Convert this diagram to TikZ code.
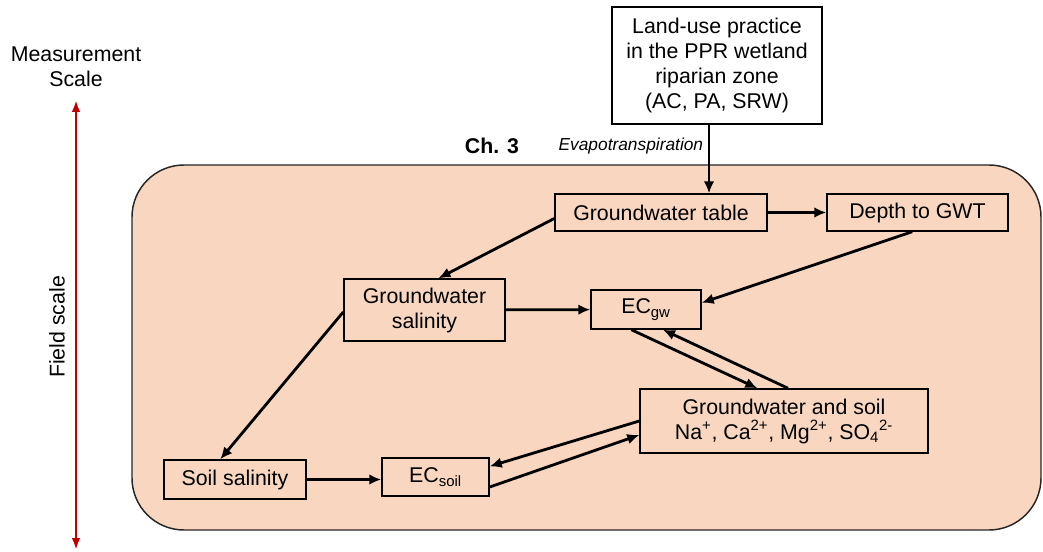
\documentclass[tikz,border=0pt]{standalone}
\usepackage{fontspec}
\setmainfont{Liberation Sans}
\usetikzlibrary{arrows.meta}
\definecolor{peach}{RGB}{248,214,192}
\definecolor{scalered}{RGB}{192,0,0}

\begin{document}
\begin{tikzpicture}[x=0.75pt,y=-0.75pt,
  every node/.style={font=\fontsize{16}{18.75}\selectfont},
  box/.style={draw,line width=1.1pt,fill=peach,align=center,inner sep=0pt},
  flow/.style={line width=2.1pt,-{Latex[length=9pt,width=8pt]}}]
  \useasboundingbox (0,0) rectangle (1043,552);

  \node[align=center] (scale) at (76,67) {Measurement\\Scale};
  \coordinate (scaletop) at (76,100);
  \coordinate (scalebot) at (76,550);
  \draw[scalered,line width=1.9pt,{Latex[length=9pt,width=6.5pt]}-{Latex[length=9pt,width=6.5pt]}] (scaletop) -- (scalebot);
  \node[rotate=90] (field) at (57,327) {Field scale};

  \draw[fill=peach,draw=black!85,line width=1.1pt,rounded corners=39pt] (132,165) rectangle (1041,530);
  \node[font=\fontsize{16}{18.75}\selectfont\bfseries] (ch) at (492,146) {Ch. 3};

  \node[box,fill=white,line width=2.2pt,minimum width=157.5pt,minimum height=87.75pt] (landuse) at (717,65.5)
    {Land-use practice\\in the PPR wetland\\riparian zone\\(AC, PA, SRW)};
  \node[box,minimum width=159pt,minimum height=27.75pt] (gwt) at (661,212.5) {Groundwater table};
  \node[box,minimum width=135.75pt,minimum height=27.75pt] (depth) at (917.5,212.5) {Depth to GWT};
  \node[box,minimum width=120.75pt,minimum height=46.5pt] (gws) at (424.5,310) {Groundwater\\salinity};
  \node[box,minimum width=82.5pt,minimum height=29.25pt] (ecgw) at (646,309.5) {EC\textsubscript{gw}};
  \node[box,minimum width=216pt,minimum height=48pt] (gwsoil) at (784,421)
    {Groundwater and soil\\Na\textsuperscript{+}, Ca\textsuperscript{2+}, Mg\textsuperscript{2+}, SO\textsubscript{4}\textsuperscript{2-}};
  \node[box,minimum width=106.5pt,minimum height=29.25pt] (soilsal) at (235,479.5) {Soil salinity};
  \node[box,minimum width=80.25pt,minimum height=28.5pt] (ecsoil) at (435.5,477) {EC\textsubscript{soil}};

  \draw[flow] ([xshift=-6pt]landuse.south) -- ([xshift=36pt]gwt.north)
    node[pos=0.3,left,font=\fontsize{13}{15}\selectfont\itshape] (evap) {Evapotranspiration};
  \draw[flow] (gwt) -- (depth);
  \draw[flow] ([yshift=-4.5pt]gwt.west) -- ([xshift=10.5pt]gws.north);
  \draw[flow] ([xshift=-4pt]depth.south) -- ([yshift=5pt]ecgw.east);
  \draw[flow] (gws) -- (ecgw);
  \draw[flow] ([yshift=-1.5pt]gws.west) -- ([xshift=-11pt]soilsal.north);
  \draw[flow] (soilsal.east) -- (soilsal.east -| ecsoil.west);
  \draw[flow] ([xshift=-11pt]ecgw.south) -- ([xshift=-20pt]gwsoil.north);
  \draw[flow] ([xshift=3pt]gwsoil.north) -- ([xshift=12.75pt]ecgw.south);
  \draw[flow] (gwsoil.west) -- ([yshift=8pt]ecsoil.east);
  \draw[flow] ([yshift=-7.5pt]ecsoil.east) -- ([yshift=-10.5pt]gwsoil.west);
\end{tikzpicture}
\end{document}
